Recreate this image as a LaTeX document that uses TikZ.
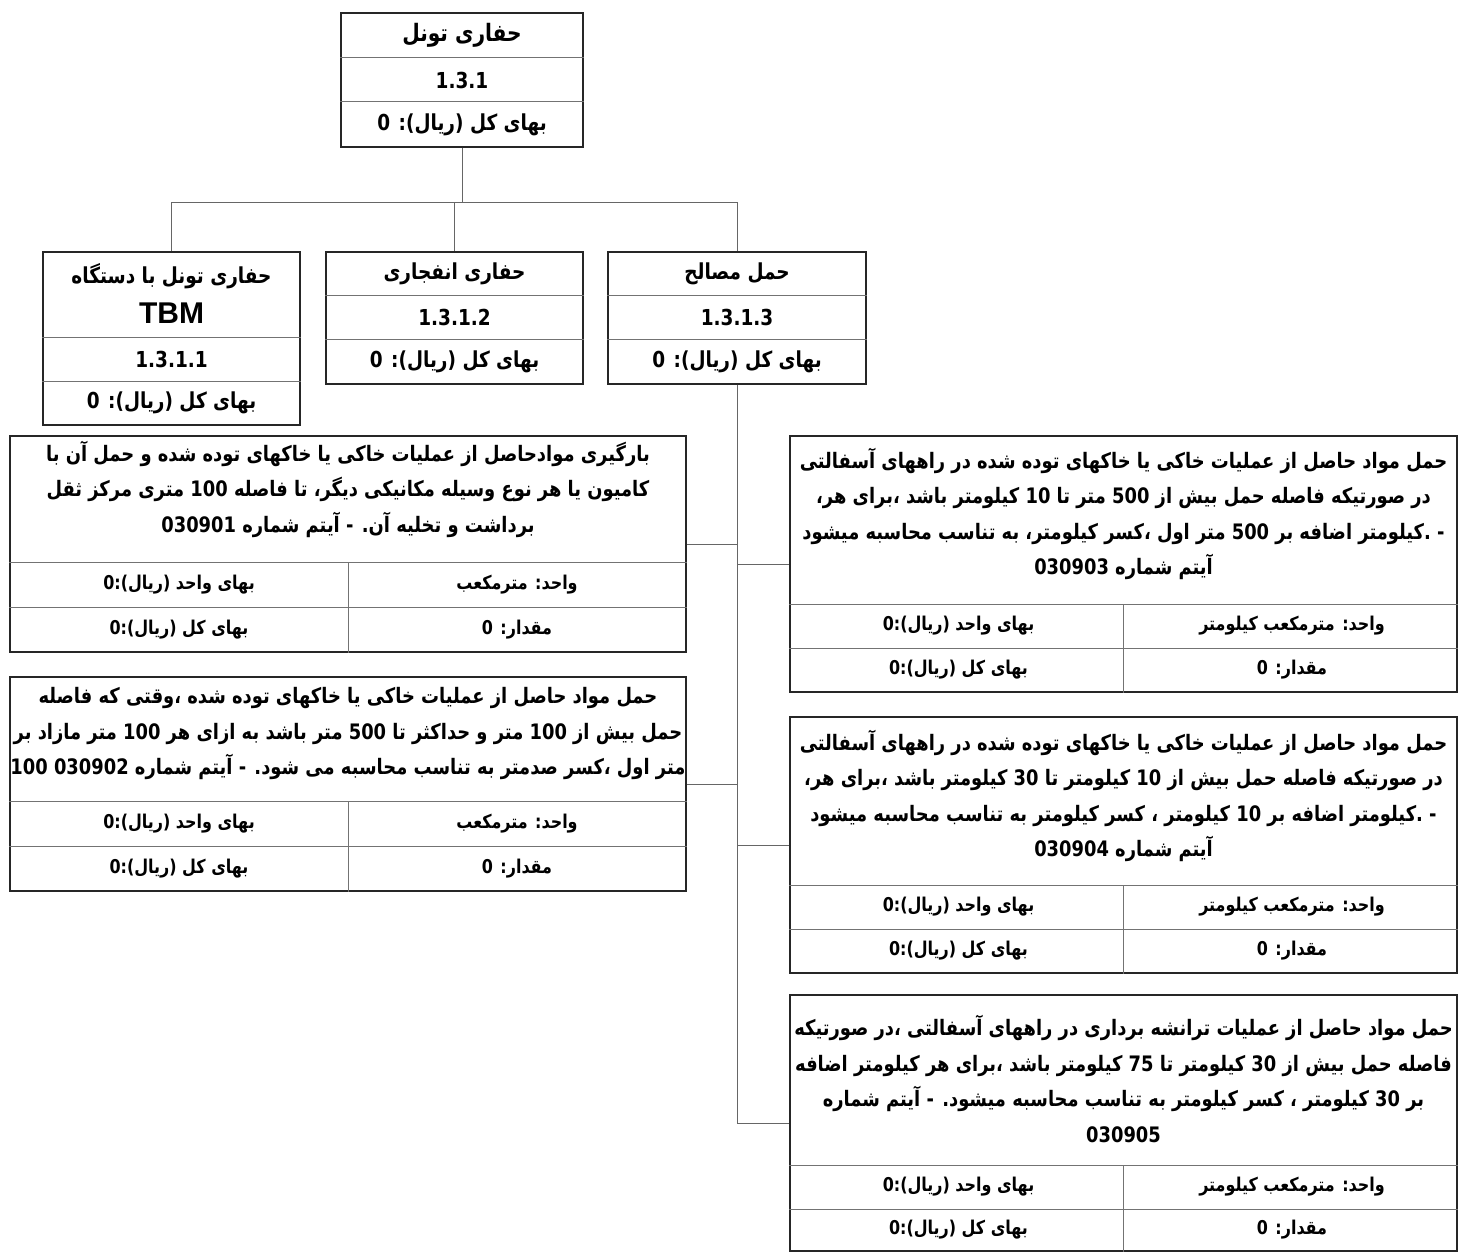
\documentclass[tikz,border=0pt]{standalone}
\usepackage{fontspec}
\usetikzlibrary{fit,shadows}
\TeXXeTstate=1
\newfontfamily\fa[Script=Arabic,FakeStretch=0.84]{DejaVu Sans}
\newfontfamily\lat{Liberation Sans}
\newcommand\RL[1]{\beginR #1\endR}
\tikzset{
  frame/.style={draw=black!85, line width=1.2pt, fill=white, inner sep=0pt,
    drop shadow={shadow xshift=1.4pt, shadow yshift=-1.4pt, fill=black!55, opacity=1}},
  rowline/.style={draw=black!55, line width=1pt},
  conn/.style={draw=black!60, line width=1pt},
  txt/.style={font=\fa\bfseries\fontsize{21.3}{35.5}\selectfont, inner sep=0pt, align=center, text=black},
  head/.style={txt, font=\fa\bfseries\fontsize{22}{30}\selectfont},
  cell/.style={txt, font=\fa\bfseries\fontsize{19}{30}\selectfont}
}
\begin{document}
\begin{tikzpicture}[x=1pt,y=-1pt]
\useasboundingbox (0,0) rectangle (1459,1252);
% ---------- boxes (frames) ----------
\node[frame, fit={(341,13) (583,147)}] (top) {};
\node[frame, fit={(43,252) (300,425)}] (A) {};
\node[frame, fit={(326,252) (583,384)}] (B) {};
\node[frame, fit={(608,252) (866,384)}] (C) {};
\node[frame, fit={(10,436) (686,652)}] (L1) {};
\node[frame, fit={(10,677) (686,891)}] (L2) {};
\node[frame, fit={(790,436) (1457,692)}] (R1) {};
\node[frame, fit={(790,717) (1457,973)}] (R2) {};
\node[frame, fit={(790,995) (1457,1251)}] (R3) {};
% ---------- connectors ----------
\draw[conn] (top.south) -- (top.south |- 0,203) -| (A.north);
\draw[conn] (top.south |- 0,203) -| (B.north);
\draw[conn] (top.south |- 0,203) -| (C.north);
\draw[conn] (C.south) |- (R3.west);
\draw[conn] (L1.east) -- (L1.east -| C.south);
\draw[conn] (L2.east) -- (L2.east -| C.south);
\draw[conn] (R1.west) -- (R1.west -| C.south);
\draw[conn] (R2.west) -- (R2.west -| C.south);
% ---------- inner row lines ----------
\draw[rowline] (top.west |- 0,58) -- (top.east |- 0,58);
\draw[rowline] (top.west |- 0,102) -- (top.east |- 0,102);
\draw[rowline] (A.west |- 0,337) -- (A.east |- 0,337);
\draw[rowline] (A.west |- 0,381) -- (A.east |- 0,381);
\draw[rowline] (B.west |- 0,295) -- (B.east |- 0,295);
\draw[rowline] (B.west |- 0,339) -- (B.east |- 0,339);
\draw[rowline] (C.west |- 0,295) -- (C.east |- 0,295);
\draw[rowline] (C.west |- 0,339) -- (C.east |- 0,339);
\foreach \b/\ya/\yb in {L1/562/607, L2/801/846, R1/604/648, R2/885/929, R3/1165/1209}{
  \draw[rowline] (\b.west |- 0,\ya) -- (\b.east |- 0,\ya);
  \draw[rowline] (\b.west |- 0,\yb) -- (\b.east |- 0,\yb);
  \draw[rowline] (\b.center |- 0,\ya) -- (\b.south);
}
% ---------- texts: top level ----------
\node[head, font=\fa\bfseries\fontsize{24}{30}\selectfont] (topT) at (462,35.5) {\RL{حفاری تونل}};
\node[head] (topN) at (462,80) {1.3.1};
\node[head] (topC) at (462,124.5) {\RL{بهای کل (ریال): 0}};
\node[head] (AT) at (171.5,276) {\RL{حفاری تونل با دستگاه}};
\node[txt, font=\lat\bfseries\fontsize{30}{34}\selectfont] (AT2) at (171.5,313) {TBM};
\node[head] (AN) at (171.5,359) {1.3.1.1};
\node[head] (AC) at (171.5,403) {\RL{بهای کل (ریال): 0}};
\node[head] (BT) at (454.5,273.5) {\RL{حفاری انفجاری}};
\node[head] (BN) at (454.5,317) {1.3.1.2};
\node[head] (BC) at (454.5,361.5) {\RL{بهای کل (ریال): 0}};
\node[head] (CT) at (737,273.5) {\RL{حمل مصالح}};
\node[head] (CN) at (737,317) {1.3.1.3};
\node[head] (CC) at (737,361.5) {\RL{بهای کل (ریال): 0}};
% ---------- left boxes ----------
\node[txt] (L1T) at (348,489) {%
\RL{بارگیری موادحاصل از عملیات خاکی یا خاکهای توده شده و حمل آن با}\\
\RL{کامیون یا هر نوع وسیله مکانیکی دیگر، تا فاصله 100 متری مرکز ثقل}\\
\RL{برداشت و تخلیه آن. - آیتم شماره 030901}};
\node[cell] (L1a) at (517,584.5) {\RL{واحد: مترمکعب}};
\node[cell] (L1b) at (179,584.5) {\RL{بهای واحد (ریال):0}};
\node[cell] (L1c) at (517,629.5) {\RL{مقدار: 0}};
\node[cell] (L1d) at (179,629.5) {\RL{بهای کل (ریال):0}};
\node[txt] (L2T) at (348,734) {%
\RL{حمل مواد حاصل از عملیات خاکی یا خاکهای توده شده ،وقتی که فاصله}\\
\RL{حمل بیش از 100 متر و حداکثر تا 500 متر باشد به ازای هر 100 متر مازاد بر}\\
\RL{متر اول ،کسر صدمتر به تناسب محاسبه می شود. - آیتم شماره 030902 100}};
\node[cell] (L2a) at (517,823.5) {\RL{واحد: مترمکعب}};
\node[cell] (L2b) at (179,823.5) {\RL{بهای واحد (ریال):0}};
\node[cell] (L2c) at (517,868.5) {\RL{مقدار: 0}};
\node[cell] (L2d) at (179,868.5) {\RL{بهای کل (ریال):0}};
% ---------- right boxes ----------
\node[txt] (R1T) at (1123.5,514) {%
\RL{حمل مواد حاصل از عملیات خاکی یا خاکهای توده شده در راههای آسفالتی}\\
\RL{در صورتیکه فاصله حمل بیش از 500 متر تا 10 کیلومتر باشد ،برای هر،}\\
\RL{- .کیلومتر اضافه بر 500 متر اول ،کسر کیلومتر، به تناسب محاسبه میشود}\\
\RL{آیتم شماره 030903}};
\node[cell] (R1a) at (1292,626) {\RL{واحد: مترمکعب کیلومتر}};
\node[cell] (R1b) at (958.5,626) {\RL{بهای واحد (ریال):0}};
\node[cell] (R1c) at (1292,670) {\RL{مقدار: 0}};
\node[cell] (R1d) at (958.5,670) {\RL{بهای کل (ریال):0}};
\node[txt] (R2T) at (1123.5,796) {%
\RL{حمل مواد حاصل از عملیات خاکی یا خاکهای توده شده در راههای آسفالتی}\\
\RL{در صورتیکه فاصله حمل بیش از 10 کیلومتر تا 30 کیلومتر باشد ،برای هر،}\\
\RL{- .کیلومتر اضافه بر 10 کیلومتر ، کسر کیلومتر به تناسب محاسبه میشود}\\
\RL{آیتم شماره 030904}};
\node[cell] (R2a) at (1292,907) {\RL{واحد: مترمکعب کیلومتر}};
\node[cell] (R2b) at (958.5,907) {\RL{بهای واحد (ریال):0}};
\node[cell] (R2c) at (1292,951) {\RL{مقدار: 0}};
\node[cell] (R2d) at (958.5,951) {\RL{بهای کل (ریال):0}};
\node[txt] (R3T) at (1123.5,1079) {%
\RL{حمل مواد حاصل از عملیات ترانشه برداری در راههای آسفالتی ،در صورتیکه}\\
\RL{فاصله حمل بیش از 30 کیلومتر تا 75 کیلومتر باشد ،برای هر کیلومتر اضافه}\\
\RL{بر 30 کیلومتر ، کسر کیلومتر به تناسب محاسبه میشود. - آیتم شماره}\\
\RL{030905}};
\node[cell] (R3a) at (1292,1187) {\RL{واحد: مترمکعب کیلومتر}};
\node[cell] (R3b) at (958.5,1187) {\RL{بهای واحد (ریال):0}};
\node[cell] (R3c) at (1292,1230) {\RL{مقدار: 0}};
\node[cell] (R3d) at (958.5,1230) {\RL{بهای کل (ریال):0}};
\end{tikzpicture}
\end{document}
